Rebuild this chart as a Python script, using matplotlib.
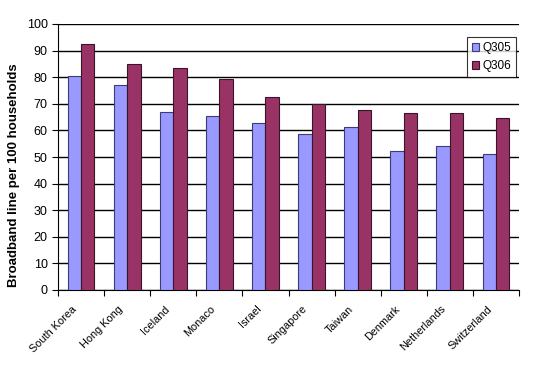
import numpy as np
import matplotlib.pyplot as plt

plt.rcParams['font.family'] = ['Liberation Sans', 'DejaVu Sans']

# Data
countries = ["South Korea", "Hong Kong", "Iceland", "Monaco", "Israel",
             "Singapore", "Taiwan", "Denmark", "Netherlands", "Switzerland"]
q305 = [80.3, 77.0, 66.9, 65.3, 62.7, 58.5, 61.2, 52.1, 54.0, 51.0]
q306 = [92.5, 85.1, 83.3, 79.2, 72.6, 69.8, 67.7, 66.5, 66.5, 64.5]


def main():
    fig = plt.figure(figsize=(5.5, 3.75), dpi=100)
    ax = fig.add_axes([58 / 550, 1 - 290 / 375, 461 / 550, 266 / 375])

    x = np.arange(len(countries))
    w = 0.29
    ax.bar(x - w / 2, q305, w, color="#9999FF", edgecolor="#3C3C7A",
           linewidth=0.8, label="Q305", zorder=3)
    ax.bar(x + w / 2, q306, w, color="#993366", edgecolor="#3A1428",
           linewidth=0.8, label="Q306", zorder=3)

    ax.set_xlim(-0.5, len(countries) - 0.5)
    ax.set_ylim(0, 100)
    ax.set_yticks(range(0, 101, 10))
    ax.yaxis.grid(True, color="black", linewidth=1, zorder=0)
    ax.set_axisbelow(True)

    # category ticks sit between groups; labels on invisible minor ticks,
    # nudged a little left like the original
    ax.set_xticks(np.arange(-0.5, len(countries), 1.0))
    ax.set_xticklabels([])
    ax.set_xticks(x - 0.2, minor=True)
    ax.set_xticklabels(countries, minor=True, rotation=45, ha="right",
                       rotation_mode="anchor", fontsize=7.8)
    ax.tick_params(axis="x", which="minor", length=0, pad=10)
    ax.tick_params(axis="x", which="major", length=4, direction="out")
    ax.tick_params(axis="y", labelsize=9, length=4, direction="out")

    for side in ["top", "right"]:
        ax.spines[side].set_visible(False)

    ax.set_ylabel("Broadband line per 100 households", fontsize=9.5,
                  fontweight="bold")
    ax.yaxis.set_label_coords(-0.082, 0.43)

    leg = ax.legend(loc="upper right", bbox_to_anchor=(0.993, 0.95),
                    fontsize=8.5, frameon=True, fancybox=False,
                    handlelength=0.6, handleheight=0.6, handletextpad=0.3,
                    borderpad=0.4, labelspacing=0.5, borderaxespad=0)
    leg.get_frame().set_edgecolor("black")
    leg.get_frame().set_linewidth(0.8)

    fig.savefig("out.png", dpi=100)


if __name__ == "__main__":
    main()
